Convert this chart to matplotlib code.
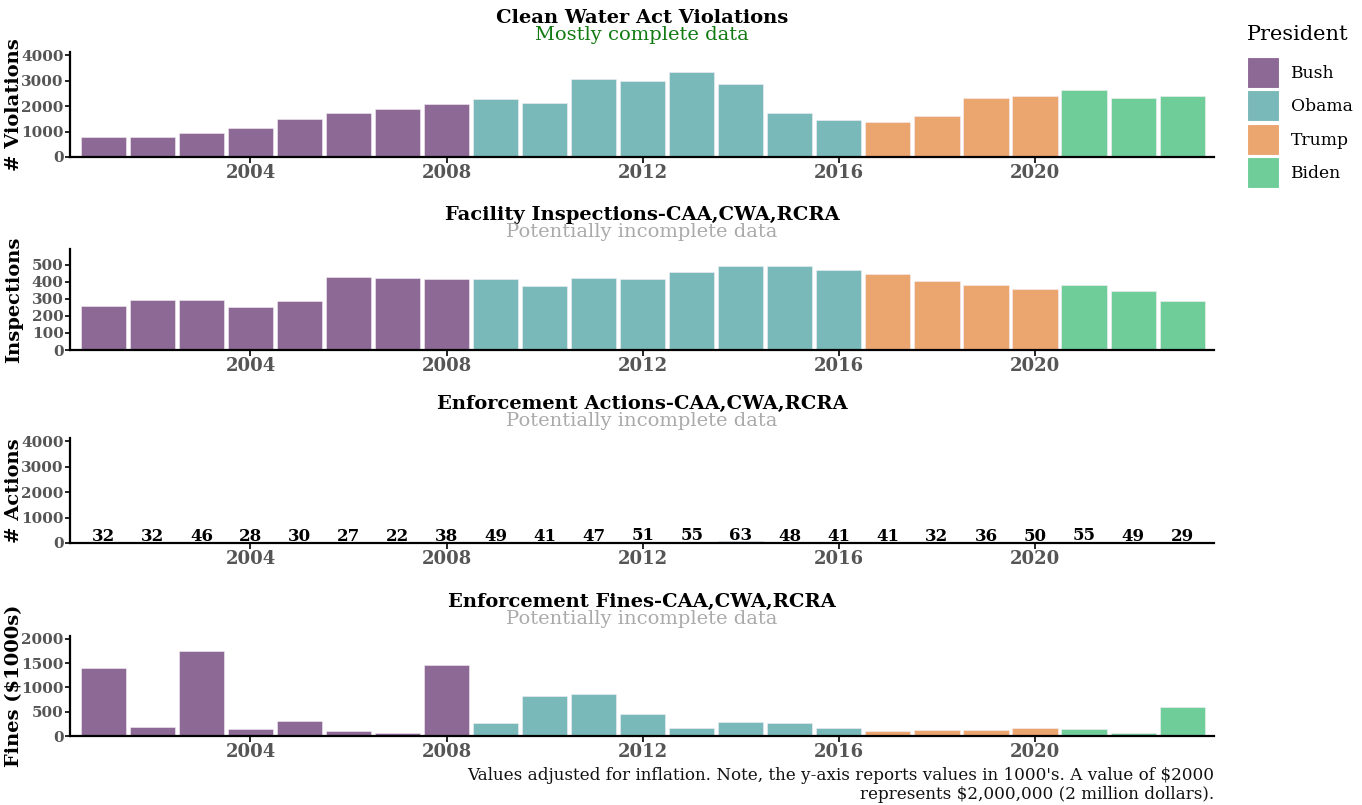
import matplotlib
matplotlib.use("Agg")
import matplotlib.pyplot as plt
from matplotlib.patches import Patch

years = list(range(2001, 2024))
presidents = ["Bush"] * 8 + ["Obama"] * 8 + ["Trump"] * 4 + ["Biden"] * 3
violations = [800, 780, 950, 1150, 1500, 1720, 1900, 2070, 2270, 2130, 3050, 3000,
              3330, 2870, 1720, 1460, 1380, 1600, 2330, 2410, 2630, 2320, 2410]
inspections = [260, 295, 295, 250, 290, 430, 420, 415, 415, 375, 420, 415,
               460, 495, 495, 470, 445, 405, 380, 355, 380, 345, 285]
actions = [32, 32, 46, 28, 30, 27, 22, 38, 49, 41, 47, 51,
           55, 63, 48, 41, 41, 32, 36, 50, 55, 49, 29]
fines = [1410, 180, 1760, 150, 300, 100, 55, 1470, 270, 830, 870, 460,
         175, 290, 275, 175, 95, 120, 120, 175, 140, 65, 600]

pres_order = ["Bush", "Obama", "Trump", "Biden"]
pres_colors = {"Bush": "#8d6996", "Obama": "#79b9b9", "Trump": "#eba670", "Biden": "#6fcd9a"}

titles = ["Clean Water Act Violations", "Facility Inspections-CAA,CWA,RCRA",
          "Enforcement Actions-CAA,CWA,RCRA", "Enforcement Fines-CAA,CWA,RCRA"]
subtitles = ["Mostly complete data", "Potentially incomplete data",
             "Potentially incomplete data", "Potentially incomplete data"]
sub_colors = ["#117a11", "#aaaaaa", "#aaaaaa", "#aaaaaa"]
ylabels = ["# Violations", "Inspections", "# Actions", "Fines ($1000s)"]
series = [violations, inspections, actions, fines]
yticks = [[0, 1000, 2000, 3000, 4000], [0, 100, 200, 300, 400, 500],
          [0, 1000, 2000, 3000, 4000], [0, 500, 1000, 1500, 2000]]
ylims = [4130, 592, 4130, 2060]
xticks = [2004, 2008, 2012, 2016, 2020]

plt.rcParams["font.family"] = ["DejaVu Serif"]

W, H = 1362, 805
fig = plt.figure(figsize=(W / 100, H / 100), dpi=100)

boxes = [(52, 157), (249, 350), (438, 543), (636, 736)]
left_px, right_px = 70, 1214

colors = [pres_colors[p] for p in presidents]

for i, (top, bot) in enumerate(boxes):
    ax = fig.add_axes([left_px / W, 1 - bot / H, (right_px - left_px) / W, (bot - top) / H])
    ax.bar(years, series[i], width=0.92, color=colors, edgecolor="#f4eef5", linewidth=0.4)
    ax.set_xlim(2000.32, 2023.65)
    ax.set_ylim(0, ylims[i])
    ax.set_yticks(yticks[i])
    ax.set_xticks(xticks)
    for s in ["top", "right"]:
        ax.spines[s].set_visible(False)
    for s in ["left", "bottom"]:
        ax.spines[s].set_linewidth(1.6)
        ax.spines[s].set_color("black")
    ax.tick_params(axis="x", labelsize=13, labelcolor="#555555", width=1.2, length=4, pad=1)
    ax.tick_params(axis="y", labelsize=11, labelcolor="#555555", width=1.2, length=3.5, pad=1)
    for lab in ax.get_xticklabels() + ax.get_yticklabels():
        lab.set_fontweight("bold")
    ax.set_ylabel(ylabels[i], fontsize=14, fontweight="bold")
    ax.yaxis.set_label_coords(-47 / (right_px - left_px), 0.5)
    cx = (left_px + right_px) / 2 / W
    fig.text(cx, 1 - (top - 34) / H, titles[i], ha="center", va="center",
             fontsize=14, fontweight="bold", color="black")
    fig.text(cx, 1 - (top - 17) / H, subtitles[i], ha="center", va="center",
             fontsize=14, color=sub_colors[i])
    if i == 2:
        for x, v in zip(years, actions):
            ax.annotate(str(v), (x, v), xytext=(0, -2), textcoords="offset points",
                        ha="center", va="bottom", fontsize=12, fontweight="bold",
                        color="black", zorder=4)

fig.text(1247 / W, 1 - 35 / H, "President", ha="left", va="center", fontsize=15)
handles = [Patch(facecolor=pres_colors[p], edgecolor="white", linewidth=0.8, label=p)
           for p in pres_order]
leg = fig.legend(handles=handles, loc="upper left", bbox_to_anchor=(1240 / W, 1 - 50 / H),
                 frameon=False, fontsize=12.3,
                 handlelength=1.88, handleheight=2.42, handletextpad=0.68, labelspacing=0.14,
                 borderaxespad=0, borderpad=0.4)

fig.text(right_px / W, 1 - 785 / H,
         "Values adjusted for inflation. Note, the y-axis reports values in 1000's. A value of $2000\n"
         "represents $2,000,000 (2 million dollars).",
         ha="right", va="center", fontsize=12.1, color="#111111", linespacing=1.15)

fig.savefig("out.png", dpi=100)
